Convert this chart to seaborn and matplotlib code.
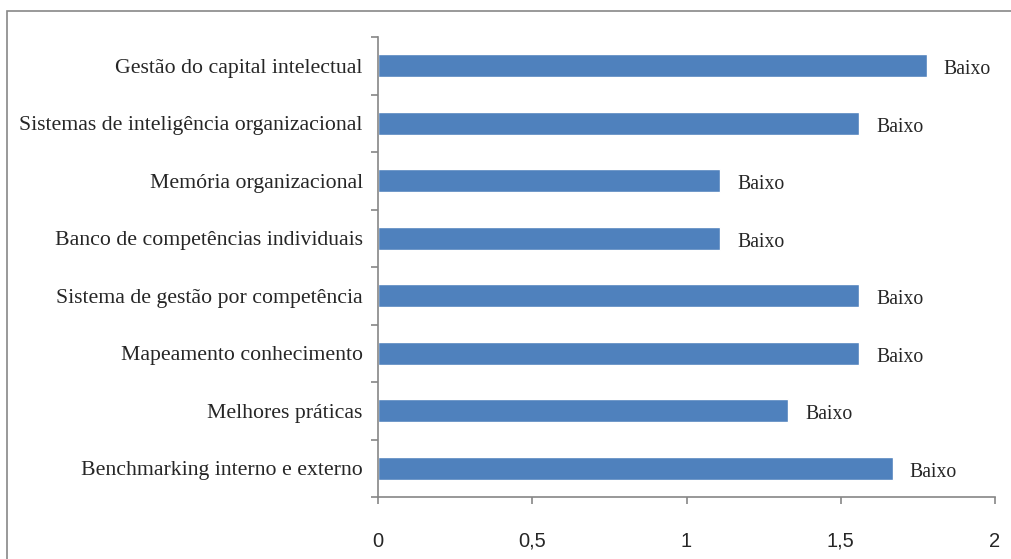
import matplotlib
matplotlib.use("Agg")
import matplotlib.pyplot as plt
import seaborn as sns
import pandas as pd
import numpy as np
from matplotlib.patches import Rectangle

categories = [
    "Gestão do capital intelectual",
    "Sistemas de inteligência organizacional",
    "Memória organizacional",
    "Banco de competências individuais",
    "Sistema de gestão por competência",
    "Mapeamento conhecimento",
    "Melhores práticas",
    "Benchmarking interno e externo",
]
values = [1.78, 1.56, 1.11, 1.11, 1.56, 1.56, 1.33, 1.67]
bar_labels = ["Baixo"] * 8
xticks = [0, 0.5, 1, 1.5, 2]
xtick_labels = ["0", "0,5", "1", "1,5", "2"]

df = pd.DataFrame({"cat": categories, "val": values})

sns.set_style("white")
plt.rcParams["font.family"] = ["Liberation Serif", "DejaVu Serif"]

fig = plt.figure(figsize=(10.11, 5.59), dpi=100)
ax = fig.add_axes([378/1011, 1-497/559, (995-378)/1011, (497-37)/559])

sns.barplot(data=df, x="val", y="cat", orient="h", color="#4F81BD",
            width=0.4, saturation=1, ax=ax)

ax.set_xlim(0, 2)
ax.set_ylim(7.5, -0.5)
ax.set_xlabel("")
ax.set_ylabel("")
ax.set_xticks(xticks)
ax.set_xticklabels(xtick_labels, fontsize=14.5,
                   family=["Liberation Sans Narrow", "Liberation Sans", "DejaVu Sans"])
ax.set_yticks(range(len(categories)))
ax.set_yticklabels(categories, fontsize=15.7)
ax.set_yticks(np.arange(-0.5, 8, 1), minor=True)
ax.tick_params(axis="y", which="major", left=False, length=0, pad=11)
ax.tick_params(axis="y", which="minor", left=True, length=5, color="#868686",
               width=1.2, direction="out")
ax.tick_params(axis="x", which="major", bottom=True, length=5, color="#868686",
               width=1.2, direction="out", pad=20)

for s in ["top", "right"]:
    ax.spines[s].set_visible(False)
for s in ["left", "bottom"]:
    ax.spines[s].set_color("#868686")
    ax.spines[s].set_linewidth(1.2)

for i, (v, lab) in enumerate(zip(values, bar_labels)):
    ax.annotate(lab, xy=(v, i), xytext=(12, -3), textcoords="offset points",
                va="center", ha="left", fontsize=14.2)

fig.patches.append(Rectangle((7/1011, -0.05), 1.1, 0.05 + 1 - 11/559,
                             transform=fig.transFigure, fill=False,
                             edgecolor="#888888", linewidth=1.2))

fig.savefig("out.png", dpi=100)
